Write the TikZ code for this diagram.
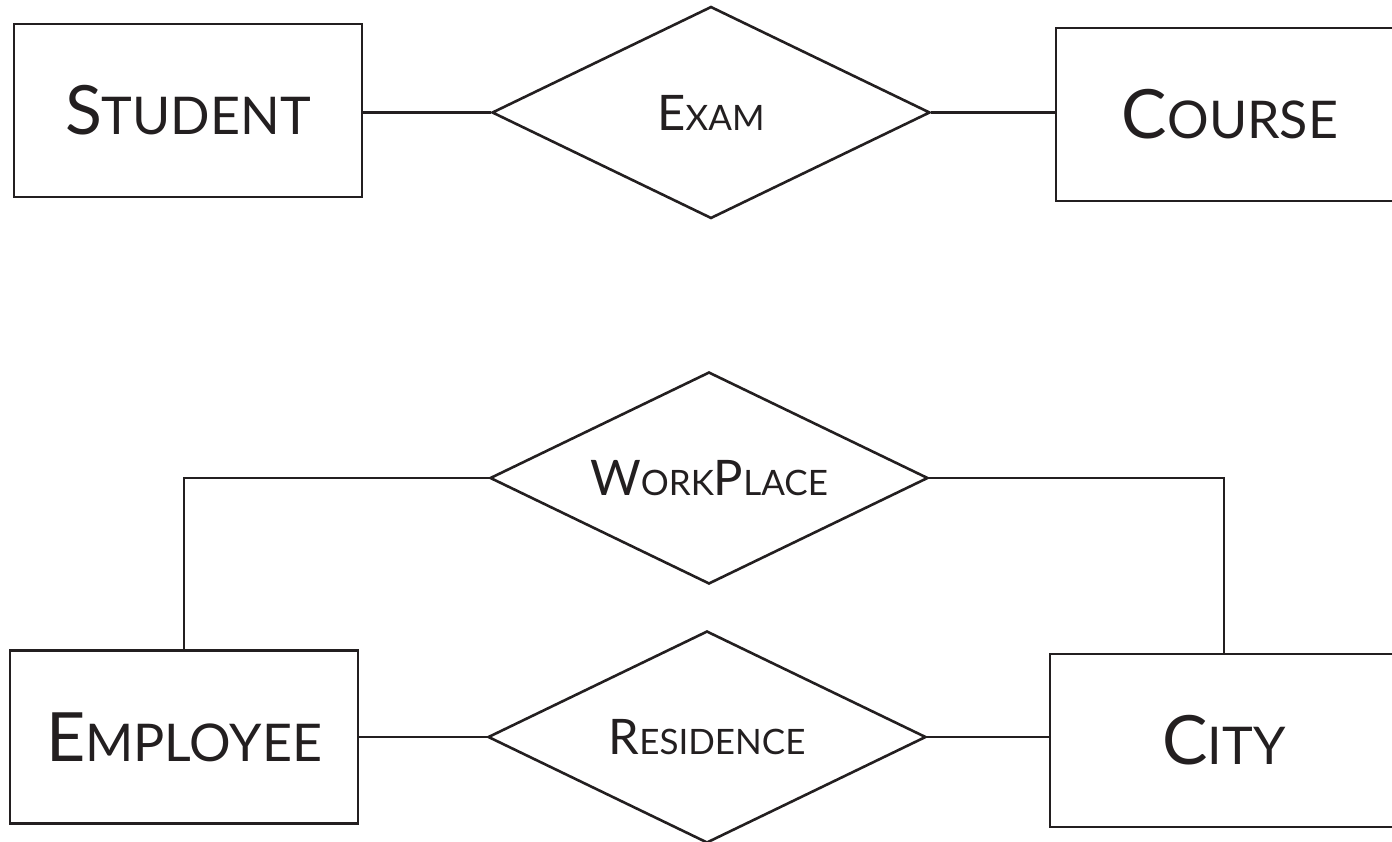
\documentclass[tikz,border=0pt]{standalone}
\usepackage{fontspec}
\setmainfont{Lato}
\usetikzlibrary{shapes.geometric}
\definecolor{ink}{RGB}{35,31,32}
\newcommand{\fsc}[4]{{\fontsize{#1}{#1}\selectfont #3}{\fontsize{#2}{#2}\selectfont #4}}
\newcommand{\entlabel}[2]{\fsc{68pt}{52pt}{#1}{#2}}
\newcommand{\rellabel}[2]{\fsc{49pt}{35pt}{#1}{#2}}
\tikzset{
  entity/.style={draw=ink, line width=2.6pt, rectangle, inner sep=0pt, minimum width=348pt, minimum height=173pt, text=ink},
  relation/.style={draw=ink, line width=2.6pt, diamond, aspect=2.07, inner sep=0pt, minimum width=438pt, minimum height=212pt, text=ink},
  link/.style={draw=ink, line width=2.6pt}
}
\begin{document}
\begin{tikzpicture}[x=1pt,y=-1pt]
\useasboundingbox (0,0) rectangle (1392,841);
\node[entity] (student) at (188,110.5) {\entlabel{S}{TUDENT}};
\node[relation] (exam) at (711,112.5) {\rellabel{E}{XAM}};
\node[entity] (course) at (1230,114.5) {\entlabel{C}{OURSE}};
\node[relation] (workplace) at (709,478) {\rellabel{W}{ORK}\rellabel{P}{LACE}};
\node[entity] (employee) at (184,737) {\entlabel{E}{MPLOYEE}};
\node[relation] (residence) at (707,737) {\rellabel{R}{ESIDENCE}};
\node[entity] (city) at (1224,740.5) {\entlabel{C}{ITY}};
\draw[link] (exam.west) -- (exam.west -| student.east);
\draw[link] (exam.east) -- (exam.east -| course.west);
\draw[link] (residence.west) -- (residence.west -| employee.east);
\draw[link] (residence.east) -- (residence.east -| city.west);
\draw[link] (workplace.west) -| (employee.north);
\draw[link] (workplace.east) -| (city.north);
\end{tikzpicture}
\end{document}
